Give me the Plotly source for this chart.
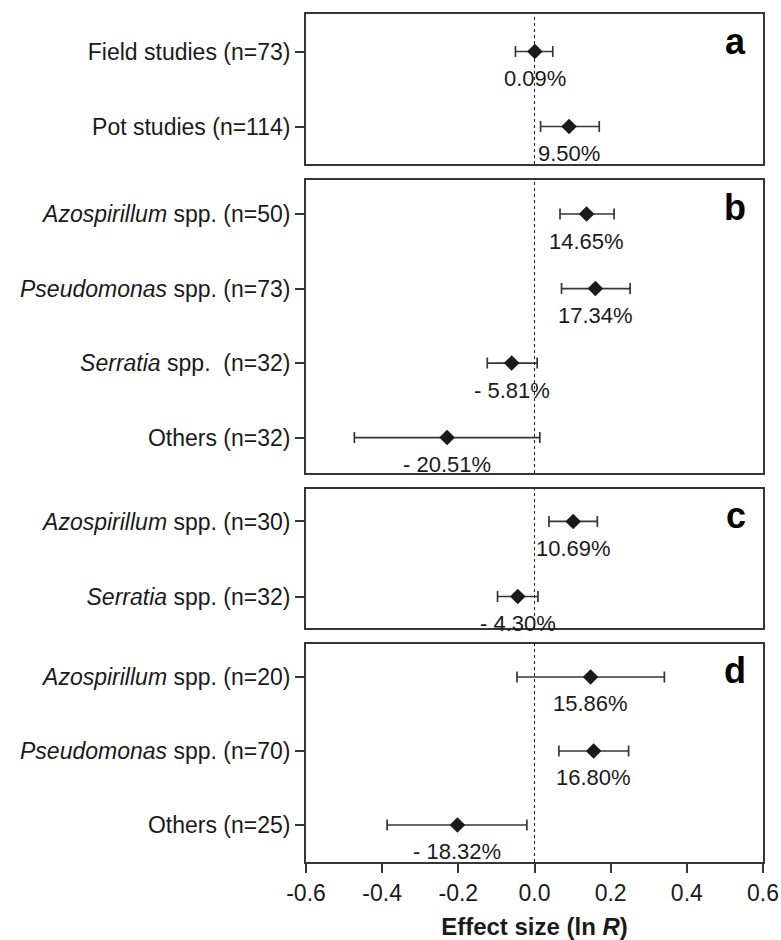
import plotly.graph_objects as go
import numpy as np

# ---- data -------------------------------------------------------------
panels = ["a", "b", "c", "d"]

labels_a = ["Field studies (n=73)", "Pot studies (n=114)"]
labels_b = ["<i>Azospirillum</i> spp. (n=50)", "<i>Pseudomonas</i> spp. (n=73)",
            "<i>Serratia</i> spp.\u00a0\u00a0(n=32)", "Others (n=32)"]
labels_c = ["<i>Azospirillum</i> spp. (n=30)", "<i>Serratia</i> spp. (n=32)"]
labels_d = ["<i>Azospirillum</i> spp. (n=20)", "<i>Pseudomonas</i> spp. (n=70)",
            "Others (n=25)"]

# percentage change stated for each group
pct_a = [0.09, 9.50]
pct_b = [14.65, 17.34, -5.81, -20.51]
pct_c = [10.69, -4.30]
pct_d = [15.86, 16.80, -18.32]

# 95% confidence limits of ln R
lo_a = [-0.050, 0.016]
hi_a = [0.048, 0.170]
lo_b = [0.067, 0.071, -0.124, -0.473]
hi_b = [0.209, 0.251, 0.007, 0.014]
lo_c = [0.038, -0.097]
hi_c = [0.165, 0.009]
lo_d = [-0.046, 0.064, -0.387]
hi_d = [0.341, 0.247, -0.020]

x_ticks = [-0.6, -0.4, -0.2, 0.0, 0.2, 0.4, 0.6]

groups = [
    (labels_a, pct_a, lo_a, hi_a),
    (labels_b, pct_b, lo_b, hi_b),
    (labels_c, pct_c, lo_c, hi_c),
    (labels_d, pct_d, lo_d, hi_d),
]

# ---- layout geometry --------------------------------------------------
y_domains = [[0.8231, 1.0], [0.4587, 0.8042], [0.2759, 0.4399], [0.0, 0.2571]]
y_ranges = [[1.5, -0.5], [3.476, -0.456], [1.42, -0.433], [2.5, -0.446]]

INK = "#1a1a1a"
LINE = "#363636"
FONT = "Liberation Sans, Arial, sans-serif"

fig = go.Figure()
annotations = []
shapes = []

for i, (labels, pct, lo, hi) in enumerate(groups):
    n = i + 1
    sfx = "" if n == 1 else str(n)
    pct = np.array(pct)
    eff = np.log1p(pct / 100.0)          # ln R from the stated % change
    lo = np.array(lo)
    hi = np.array(hi)
    rows = list(range(len(labels)))

    fig.add_trace(go.Scatter(
        x=eff, y=rows, mode="markers",
        xaxis="x" + sfx, yaxis="y" + sfx,
        marker=dict(symbol="diamond", size=12, color=INK,
                    line=dict(width=0)),
        error_x=dict(type="data", symmetric=False,
                     array=hi - eff, arrayminus=eff - lo,
                     color=LINE, thickness=1.7, width=5.5),
        showlegend=False, hoverinfo="skip",
    ))

    for xv, yv, p in zip(eff, rows, pct):
        txt = f"{p:.2f}%" if p >= 0 else f"- {abs(p):.2f}%"
        annotations.append(dict(
            x=xv, y=yv, xref="x" + sfx, yref="y" + sfx,
            text=txt, showarrow=False, yshift=-27,
            font=dict(family=FONT, size=22, color=INK),
        ))

    annotations.append(dict(
        x=0.967, y=1, xref=f"x{sfx} domain", yref=f"y{sfx} domain",
        text=f"<b>{panels[i]}</b>", showarrow=False,
        xanchor="right", yanchor="middle", yshift=-27,
        font=dict(family=FONT, size=36, color="#000000"),
    ))

    # dotted reference line at zero effect
    shapes.append(dict(
        type="line", x0=0, x1=0, y0=0, y1=1,
        xref="x" + sfx, yref=f"y{sfx} domain",
        line=dict(color=INK, width=1, dash="dot"),
    ))

    last = n == len(groups)
    fig.layout["xaxis" + sfx] = dict(
        range=[-0.6, 0.6], anchor="y" + sfx,
        matches=None if n == 1 else "x",
        automargin=False,
        tickvals=x_ticks,
        ticktext=[f"{v:.1f}" for v in x_ticks],
        showticklabels=last, ticks="outside" if last else "",
        ticklen=9, tickwidth=1.5, tickcolor=LINE,
        showline=True, mirror=True, linecolor=LINE, linewidth=1.9,
        showgrid=False, zeroline=False,
        tickfont=dict(family=FONT, size=23, color=INK),
        title=dict(text="<b>Effect size (ln <i>R</i>)</b>",
                   font=dict(family=FONT, size=24, color=INK),
                   standoff=24) if last else None,
    )
    fig.layout["yaxis" + sfx] = dict(
        domain=y_domains[i], range=y_ranges[i], anchor="x" + sfx,
        automargin=False,
        tickvals=rows, ticktext=labels,
        ticks="outside", ticklen=9, tickwidth=1.5, tickcolor=LINE,
        showline=True, mirror=True, linecolor=LINE, linewidth=1.9,
        showgrid=False, zeroline=False,
        tickfont=dict(family=FONT, size=23, color=INK),
    )

fig.update_layout(
    width=781, height=940,
    margin=dict(l=306, r=18, t=14, b=78),
    paper_bgcolor="white", plot_bgcolor="white",
    annotations=annotations, shapes=shapes,
    font=dict(family=FONT, color=INK),
)

fig.write_html("out.html")
